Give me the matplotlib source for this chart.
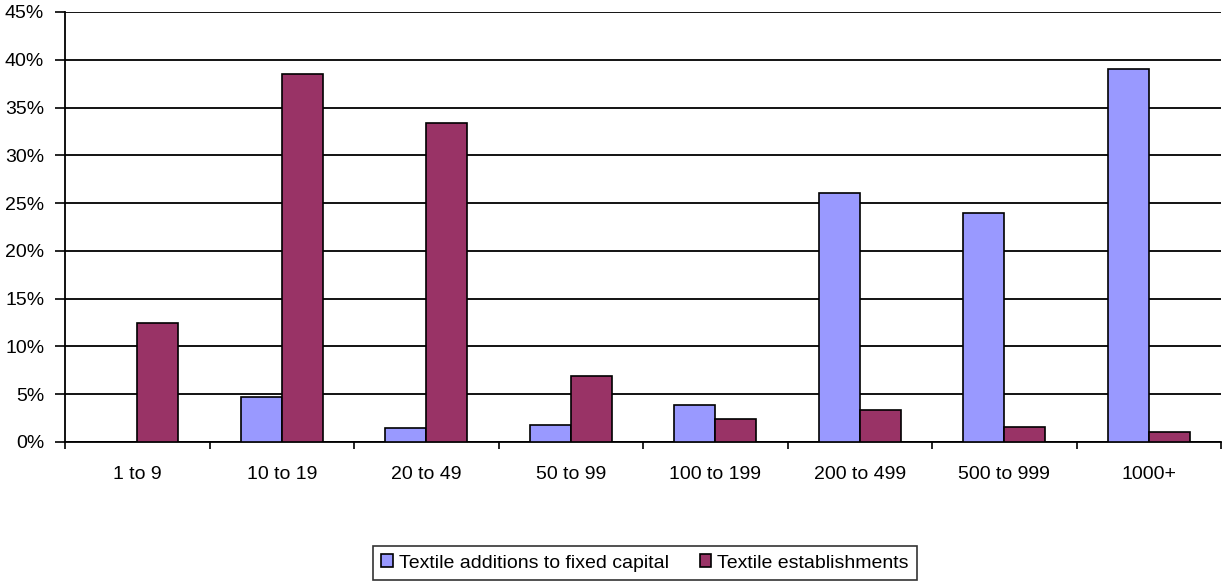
import matplotlib
matplotlib.use("Agg")
import matplotlib.pyplot as plt
import numpy as np
from matplotlib.ticker import FuncFormatter, MultipleLocator

plt.rcParams['font.family'] = ['Liberation Sans', 'DejaVu Sans']

categories = ["1 to 9", "10 to 19", "20 to 49", "50 to 99", "100 to 199",
              "200 to 499", "500 to 999", "1000+"]
fixed_capital = [0.0, 4.7, 1.43, 1.75, 3.84, 26.05, 23.96, 39.0]
establishments = [12.45, 38.5, 33.4, 6.9, 2.4, 3.3, 1.6, 1.08]

FS = 14

fig = plt.figure(figsize=(12.23, 5.81), dpi=100)
ax = fig.add_axes([65 / 1223, 1 - 442 / 581, (1221 - 65) / 1223, (442 - 12) / 581])

x = np.arange(len(categories))
w = 0.284
ax.bar(x - w / 2, fixed_capital, w, color="#9999ff", edgecolor="black",
       linewidth=1.2, label="Textile additions to fixed capital", zorder=3)
ax.bar(x + w / 2, establishments, w, color="#993366", edgecolor="black",
       linewidth=1.2, label="Textile establishments", zorder=3)

ax.set_xlim(-0.5, len(categories) - 0.5)
ax.set_ylim(0, 45)
ax.yaxis.set_major_locator(MultipleLocator(5))
ax.yaxis.set_major_formatter(FuncFormatter(lambda v, p: f"{v:.0f}%"))
ax.yaxis.grid(True, color="black", linewidth=1.3, zorder=0)
ax.set_axisbelow(True)

ax.set_xticks(x)
ax.set_xticklabels(categories)
ax.set_xticks(np.arange(len(categories) + 1) - 0.5, minor=True)
ax.tick_params(axis="x", which="major", length=0, pad=17, labelsize=FS)
ax.tick_params(axis="x", which="minor", length=5, width=1.2, direction="out")
ax.tick_params(axis="y", length=7, width=1.2, labelsize=FS, pad=8)

for s in ["top", "right"]:
    ax.spines[s].set_visible(False)
for s in ["left", "bottom"]:
    ax.spines[s].set_linewidth(1.3)

leg = ax.legend(loc="center", bbox_to_anchor=(645 / 1223, 1 - 563 / 581),
                bbox_transform=fig.transFigure, ncol=2, frameon=True,
                fancybox=False, edgecolor="black", fontsize=FS,
                handlelength=0.6, handleheight=0.6, handletextpad=0.3,
                columnspacing=1.6, borderpad=0.42, borderaxespad=0)
leg.get_frame().set_linewidth(1.2)

fig.savefig("out.png", dpi=100)
